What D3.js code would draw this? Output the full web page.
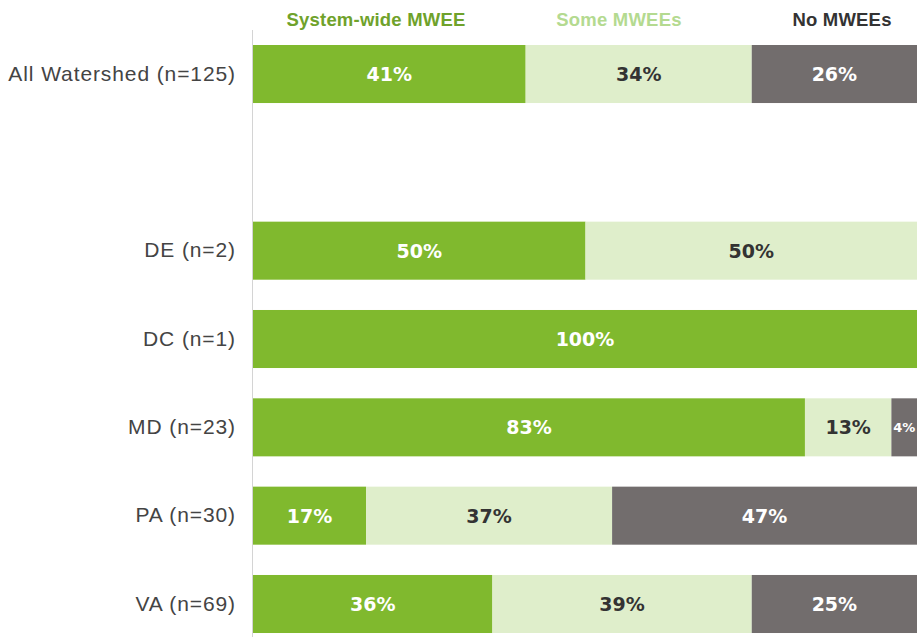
<!DOCTYPE html>
<html>
<head>
<meta charset="utf-8">
<script src="https://cdn.jsdelivr.net/npm/d3@7"></script>
<style>
  html, body { margin: 0; padding: 0; background: #fff; overflow: hidden; }
  svg { display: block; }
</style>
</head>
<body>
<svg id="chart" width="917" height="637"></svg>
<script>
// ---- data ----
const categories = ["All Watershed (n=125)", "", "DE (n=2)", "DC (n=1)", "MD (n=23)", "PA (n=30)", "VA (n=69)"];
const seriesNames = ["System-wide MWEE", "Some MWEEs", "No MWEEs"];
const systemWide = [41, null, 50, 100, 83, 17, 36];
const someMWEEs  = [34, null, 50, 0, 13, 37, 39];
const noMWEEs    = [26, null, 0, 0, 4, 47, 25];

const colors = ["#80b92e", "#dfeecb", "#726d6d"];
const legendColors = ["#6fa22b", "#b4da90", "#333333"];
const labelColors = ["#ffffff", "#333333", "#ffffff"];

const svg = d3.select("#chart");
const W = 917, H = 637;

const x = d3.scaleLinear().domain([0, 100]).range([253, 918]);
const y = d3.scaleBand().domain(d3.range(categories.length))
  .range([29.85, 29.85 + 7 * 88.33]).paddingInner(0.343).paddingOuter(0.1715);

const rows = categories.map((c, i) => ({ cat: c, i, vals: [systemWide[i], someMWEEs[i], noMWEEs[i]] }))
  .filter(d => d.cat !== "");

const stackData = rows.map(r => {
  let acc = 0;
  return r.vals.map((v, k) => {
    const s = { row: r.i, k, v, x0: acc, x1: acc + v };
    acc += v;
    return s;
  });
}).flat().filter(s => s.v > 0);

const g = svg.append("g");

g.selectAll("rect.seg").data(stackData).enter().append("rect")
  .attr("class", "seg")
  .attr("x", d => x(d.x0))
  .attr("width", d => Math.min(x(d.x1), W) - x(d.x0))
  .attr("y", d => y(d.row))
  .attr("height", y.bandwidth())
  .attr("fill", d => colors[d.k]);

const baseFs = 19;
g.selectAll("text.val").data(stackData).enter().append("text")
  .attr("class", "val")
  .attr("y", d => y(d.row) + y.bandwidth() / 2)
  .attr("dy", "0.36em")
  .attr("text-anchor", "middle")
  .attr("font-family", "DejaVu Sans, Verdana, sans-serif")
  .attr("font-weight", "bold")
  .attr("font-size", baseFs)
  .attr("fill", d => labelColors[d.k])
  .text(d => d.v + "%")
  .each(function(d) {
    const x0 = x(d.x0), x1 = Math.min(x(d.x1), W);
    const avail = x1 - x0 - 2;
    const w = this.getComputedTextLength();
    if (w > avail) {
      const fs = Math.max(10, Math.floor(baseFs * avail / w));
      d3.select(this).attr("font-size", fs);
    }
    d3.select(this).attr("x", (x0 + x1) / 2);
  });

// axis line
svg.append("line")
  .attr("x1", 252.5).attr("x2", 252.5)
  .attr("y1", 30).attr("y2", H)
  .attr("stroke", "#d4d4d4").attr("stroke-width", 1);

// category axis labels
const yAxis = d3.axisLeft(y).tickSize(0).tickPadding(16)
  .tickFormat(i => categories[i]);
const ya = svg.append("g").attr("transform", "translate(252,0)").call(yAxis);
ya.select(".domain").remove();
ya.selectAll("text")
  .attr("font-family", "'Liberation Sans', Arial, sans-serif")
  .attr("font-size", 21)
  .attr("fill", "#444444")
  .style("letter-spacing", "0.9px");

// legend
const legendX = [376, 619, 842];
svg.selectAll("text.leg").data(seriesNames).enter().append("text")
  .attr("class", "leg")
  .attr("x", (d, i) => legendX[i])
  .attr("y", 19.5)
  .attr("dy", "0.36em")
  .attr("text-anchor", "middle")
  .attr("font-family", "'Liberation Sans', Arial, sans-serif")
  .attr("font-weight", "bold")
  .attr("font-size", 18.5)
  .style("letter-spacing", "0.2px")
  .attr("fill", (d, i) => legendColors[i])
  .text(d => d);
</script>
</body>
</html>
